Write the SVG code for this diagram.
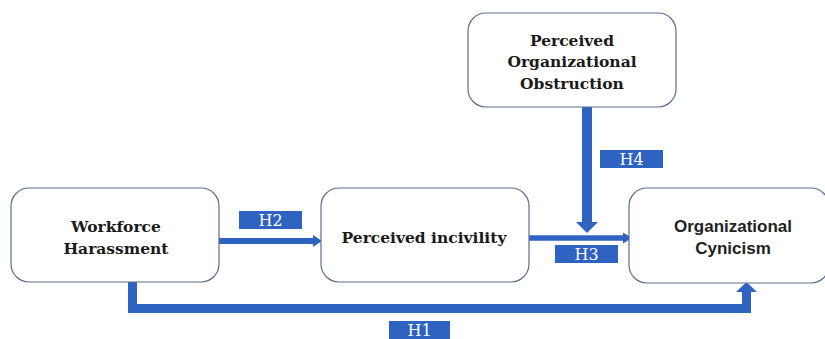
<svg xmlns="http://www.w3.org/2000/svg" width="825" height="339" viewBox="0 0 825 339">
<style>
.box{fill:#fff;stroke:#5b6f8c;stroke-width:1.2}
.t{font-family:'DejaVu Serif','Liberation Serif',serif;font-weight:bold;font-size:15.5px;fill:#1a1a1a;text-anchor:middle}
.s{font-family:'Liberation Sans',Arial,sans-serif;font-weight:bold;font-size:17px;fill:#222;text-anchor:middle}
.lab{fill:#2f63c2}
.lt{font-family:'DejaVu Serif','Liberation Serif',serif;font-size:16px;fill:#fff;text-anchor:middle}
.ln{fill:none;stroke:#2f63c2}
.hd{fill:#2f63c2}
</style>
<rect width="825" height="339" fill="#fff"/>
<g id="connectors">
  <g id="H2-edge">
    <line class="ln" x1="219" y1="241" x2="314" y2="241" stroke-width="6"/>
    <polygon class="hd" points="313,235 322,241 313,247"/>
  </g>
  <g id="H3-edge">
    <line class="ln" x1="529" y1="238" x2="624" y2="238" stroke-width="5.5"/>
    <polygon class="hd" points="623,232.5 632,238 623,243.5"/>
  </g>
  <g id="H4-edge">
    <line class="ln" x1="587" y1="107" x2="587" y2="224" stroke-width="10"/>
    <polygon class="hd" points="576,222 598,222 587,233"/>
  </g>
  <g id="H1-edge">
    <polyline class="ln" points="132.5,282 132.5,308.5 746.5,308.5 746.5,291" stroke-width="9"/>
    <polygon class="hd" points="736,292 757,292 746.5,282"/>
  </g>
  <g id="labels">
    <rect class="lab" x="239" y="211" width="63" height="18"/>
    <text class="lt" x="270.5" y="226">H2</text>
    <rect class="lab" x="555" y="245" width="63" height="18"/>
    <text class="lt" x="586.5" y="260">H3</text>
    <rect class="lab" x="600" y="150" width="63" height="18"/>
    <text class="lt" x="631.5" y="165">H4</text>
    <rect class="lab" x="389" y="321" width="61" height="18"/>
    <text class="lt" x="419.5" y="336">H1</text>
  </g>
</g>
<g id="workforce-harassment">
  <rect class="box" x="11" y="188" width="208" height="94" rx="18"/>
  <text class="t" x="116" y="232">Workforce</text>
  <text class="t" x="116" y="254">Harassment</text>
</g>
<g id="perceived-incivility">
  <rect class="box" x="321" y="188" width="208" height="94" rx="18"/>
  <text class="t" x="424" y="243">Perceived incivility</text>
</g>
<g id="organizational-cynicism">
  <rect class="box" x="629" y="188" width="200" height="95" rx="18"/>
  <text class="s" x="733" y="232">Organizational</text>
  <text class="s" x="733" y="254">Cynicism</text>
</g>
<g id="perceived-organizational-obstruction">
  <rect class="box" x="468" y="13" width="208" height="94" rx="18"/>
  <text class="t" x="572" y="46">Perceived</text>
  <text class="t" x="572" y="67">Organizational</text>
  <text class="t" x="572" y="89">Obstruction</text>
</g>
</svg>
